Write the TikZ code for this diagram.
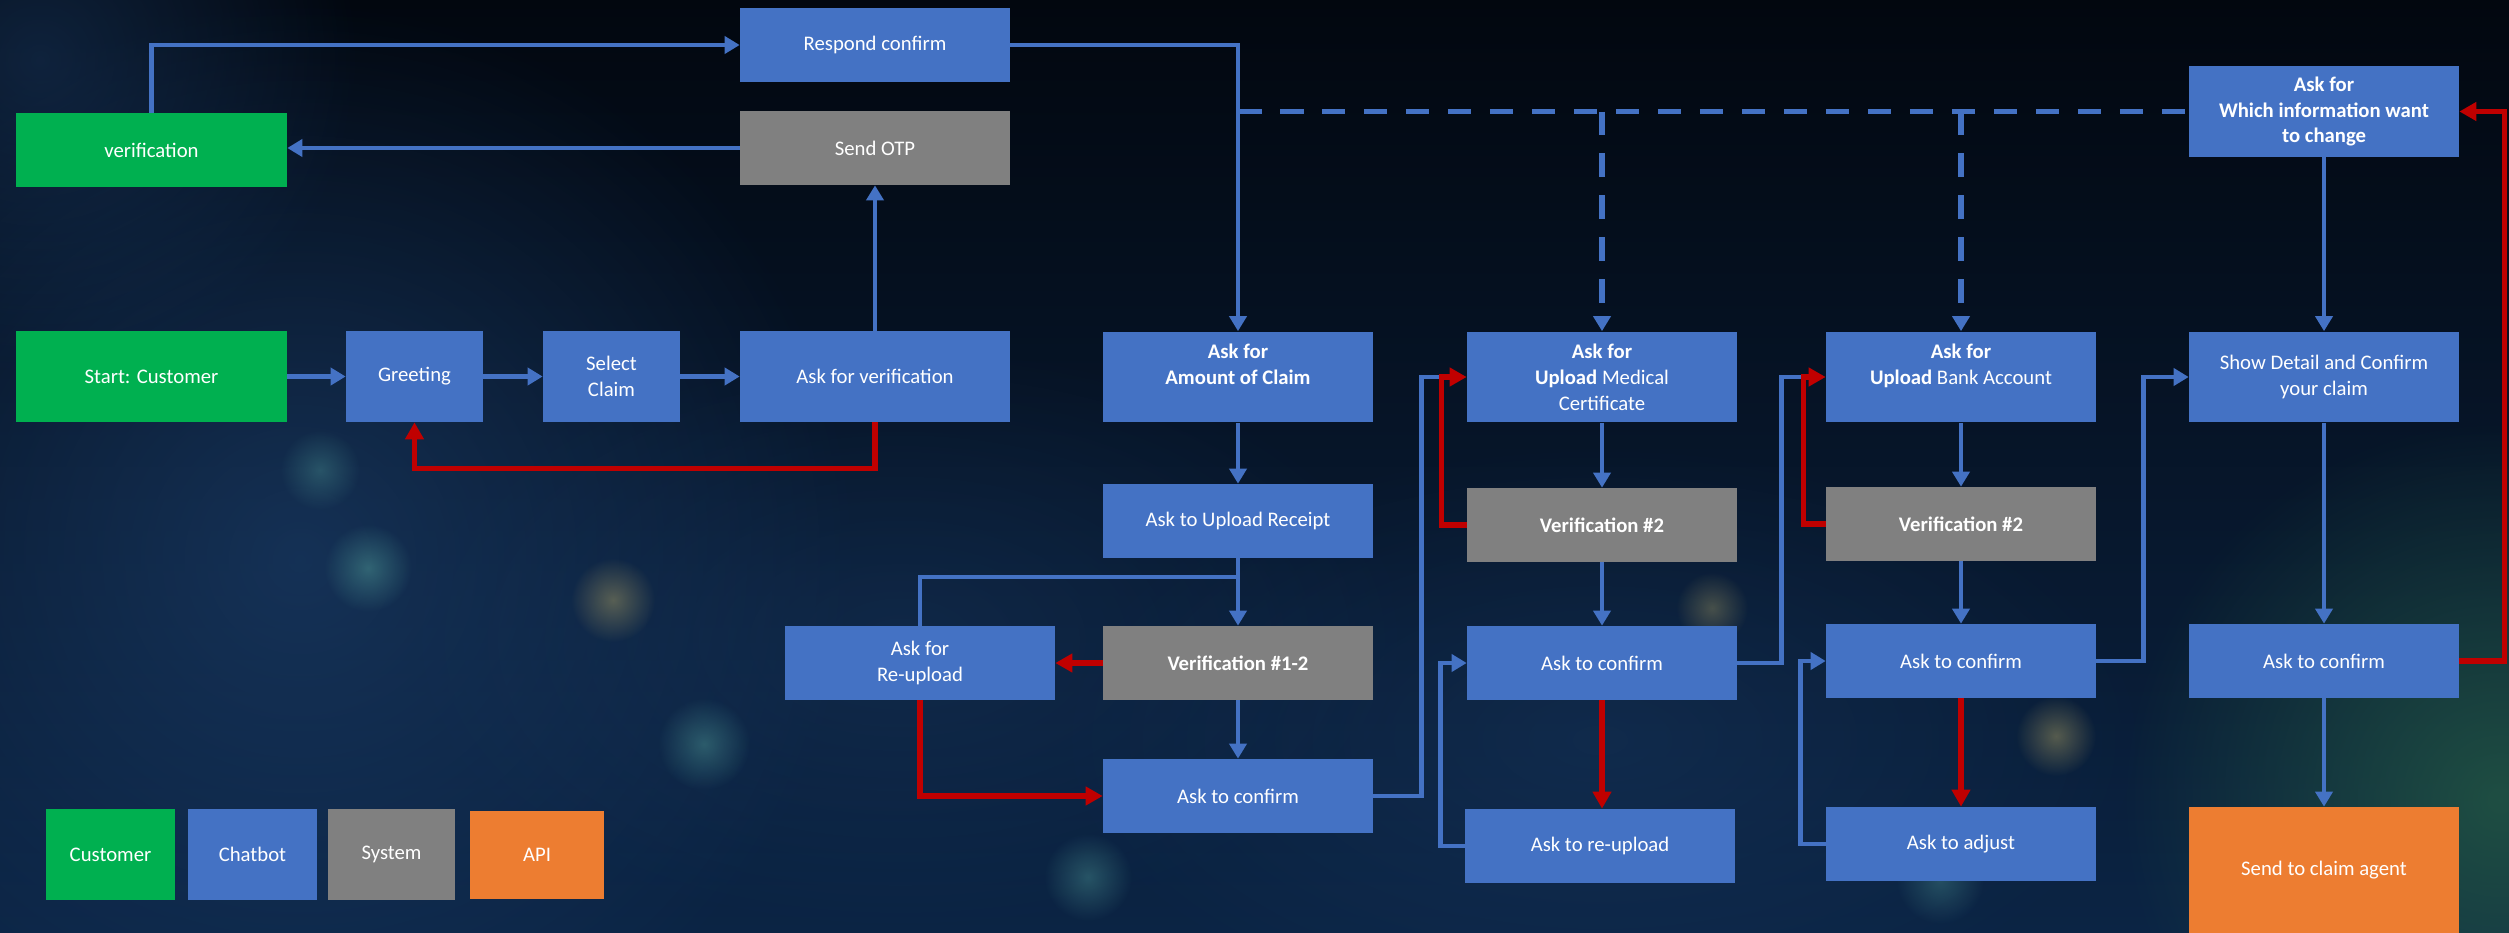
\documentclass[tikz,border=0pt]{standalone}
\usepackage{fontspec}
\setmainfont{Carlito}
\usetikzlibrary{arrows.meta,fadings}
\definecolor{botc}{HTML}{4472C4}
\definecolor{custc}{HTML}{00B050}
\definecolor{sysc}{HTML}{808080}
\definecolor{apic}{HTML}{ED7D31}
\definecolor{redc}{HTML}{C00000}
\definecolor{bgtop}{HTML}{02070F}
\definecolor{bgbot}{HTML}{0B2444}
\definecolor{haze}{HTML}{1E4270}
\definecolor{teal}{HTML}{4A9090}
\definecolor{amber}{HTML}{A09660}
\definecolor{mossy}{HTML}{245A44}
\tikzfading[name=soft,inner color=transparent!0,outer color=transparent!100]
\begin{document}
\begin{tikzpicture}[x=0.02cm,y=-0.02cm,
  box/.style={rectangle,minimum width=5.4cm,minimum height=1.48cm,inner sep=0pt,text=white,align=center,font=\fontsize{11.8}{14.7}\selectfont},
  bot/.style={box,fill=botc},sys/.style={box,fill=sysc},cust/.style={box,fill=custc},api/.style={box,fill=apic},
  tall/.style={minimum height=1.82cm},small/.style={minimum width=2.74cm},
  bl/.style={draw=botc,line width=0.09cm,-{Triangle[width=0.34cm,length=0.3cm]}},
  rd/.style={draw=redc,line width=0.11cm,-{Triangle[width=0.36cm,length=0.34cm]}},
  dsh/.style={bl,line width=0.11cm,dash pattern=on 0.47cm off 0.37cm},
  glow/.style={fill=#1,path fading=soft}]
\useasboundingbox (0,0) rectangle (2509,933);
\shade[top color=bgtop,bottom color=bgbot] (0,0) rectangle (2509,933);
\fill[glow=haze,fill opacity=.6] (300,560) circle (560);
\fill[glow=haze,fill opacity=.45] (40,60) circle (320);
\fill[glow=haze,fill opacity=.35] (900,640) ellipse (520 and 300);
\fill[glow=haze,fill opacity=.35] (1600,740) ellipse (560 and 300);
\fill[glow=mossy,fill opacity=.8] (2500,800) circle (380);
\fill[glow=teal,fill opacity=.55] (368,568) circle (44);
\fill[glow=amber,fill opacity=.5] (613,600) circle (42);
\fill[glow=teal,fill opacity=.5] (704,744) circle (46);
\fill[glow=teal,fill opacity=.45] (1088,877) circle (44);
\fill[glow=amber,fill opacity=.4] (1712,608) circle (36);
\fill[glow=amber,fill opacity=.5] (2056,736) circle (40);
\fill[glow=teal,fill opacity=.4] (1940,880) circle (44);
\fill[glow=teal,fill opacity=.4] (320,470) circle (40);
\node[bot] (resp) at (875,45) {Respond confirm};
\node[sys] (otp) at (875,148) {Send OTP};
\node[cust,minimum width=5.42cm] (verif) at (151.5,150) {verification};
\node[cust,tall,minimum width=5.42cm] (start) at (151.5,376.5) {Start: Customer};
\node[bot,tall,small] (greet) at (414.5,376.5) {Greeting};
\node[bot,tall,small] (sel) at (611.5,376.5) {Select\\Claim};
\node[bot,tall] (askver) at (875,376.5) {Ask for verification};
\node[bot,tall] (amount) at (1238,377) {\textbf{Ask for}\\\textbf{Amount of Claim}\\~};
\node[bot,tall] (med) at (1602,377) {\textbf{Ask for}\\\textbf{Upload} Medical\\Certificate};
\node[bot,tall] (bank) at (1961,377) {\textbf{Ask for}\\\textbf{Upload} Bank Account\\~};
\node[bot,tall] (detail) at (2324,377) {Show Detail and Confirm\\your claim};
\node[bot,tall] (change) at (2324,111.5) {\textbf{Ask for}\\\textbf{Which information want}\\\textbf{to change}};
\node[bot] (receipt) at (1238,521) {Ask to Upload Receipt};
\node[sys] (ver2a) at (1602,525) {\textbf{Verification \#2}};
\node[sys] (ver2b) at (1961,524) {\textbf{Verification \#2}};
\node[bot] (reup) at (920,663) {Ask for\\Re-upload};
\node[sys] (ver12) at (1238,663) {\textbf{Verification \#1-2}};
\node[bot] (conf2) at (1602,663) {Ask to confirm};
\node[bot] (conf3) at (1961,661) {Ask to confirm};
\node[bot] (conf4) at (2324,661) {Ask to confirm};
\node[bot] (conf1) at (1238,796) {Ask to confirm};
\node[bot] (reupl) at (1600,846) {Ask to re-upload};
\node[bot] (adjust) at (1961,844) {Ask to adjust};
\node[api,minimum height=2.52cm] (agent) at (2324,870) {Send to claim agent};
\node[cust,tall,minimum width=2.58cm] (lcust) at (110.5,854.5) {Customer};
\node[bot,tall,minimum width=2.58cm] (lbot) at (252.5,854.5) {Chatbot};
\node[sys,tall,minimum width=2.54cm] (lsys) at (391.5,854.5) {System};
\node[api,minimum width=2.68cm,minimum height=1.76cm] (lapi) at (537,855) {API};
\draw[bl] (start) -- (greet);
\draw[bl] (greet) -- (sel);
\draw[bl] (sel) -- (askver);
\draw[bl] (askver) -- (otp);
\draw[bl] (otp.west) -- (otp.west -| verif.east);
\draw[bl] (verif.north) |- (resp.west);
\draw[bl] (resp.east) -| (amount.north);
\draw[dsh,-] (change.west -| amount.north) -- (change.west);
\draw[dsh] (change.west -| med.north) -- (med.north);
\draw[dsh] (change.west -| bank.north) -- (bank.north);
\draw[bl] (amount) -- (receipt);
\draw[bl] (receipt) -- (ver12);
\coordinate (rj) at (1238,577);
\draw[bl,-] (reup.north) |- (rj);
\draw[bl] (ver12) -- (conf1);
\draw[bl,-] (conf1.east) -- ++(48,0) |- ([xshift=-0.46cm]med.west);
\draw[bl] (med) -- (ver2a);
\draw[bl] (ver2a) -- (conf2);
\draw[bl] (reupl.west) -- ++(-24,0) |- (conf2.west);
\draw[bl,-] (conf2.east) -- ++(44,0) |- ([xshift=-0.46cm]bank.west);
\draw[bl] (bank) -- (ver2b);
\draw[bl] (ver2b) -- (conf3);
\draw[bl] (adjust.west) -- ++(-25,0) |- (conf3.west);
\draw[bl] (conf3.east) -- ++(47,0) |- (detail.west);
\draw[bl] (change) -- (detail);
\draw[bl] (detail) -- (conf4);
\draw[bl] (conf4) -- (agent);
\draw[rd] (askver.south) -- ++(0,46) -| (greet.south);
\draw[rd] (ver12) -- (reup);
\draw[rd] (reup.south) |- (conf1.west);
\draw[rd] (ver2a.west) -- ++(-25,0) |- (med.west);
\draw[rd] (conf2.south) -- (conf2.south |- reupl.north);
\draw[rd] (ver2b.west) -- ++(-22,0) |- (bank.west);
\draw[rd] (conf3) -- (adjust);
\draw[rd] (conf4.east) -- ++(45,0) |- (change.east);
\end{tikzpicture}
\end{document}
